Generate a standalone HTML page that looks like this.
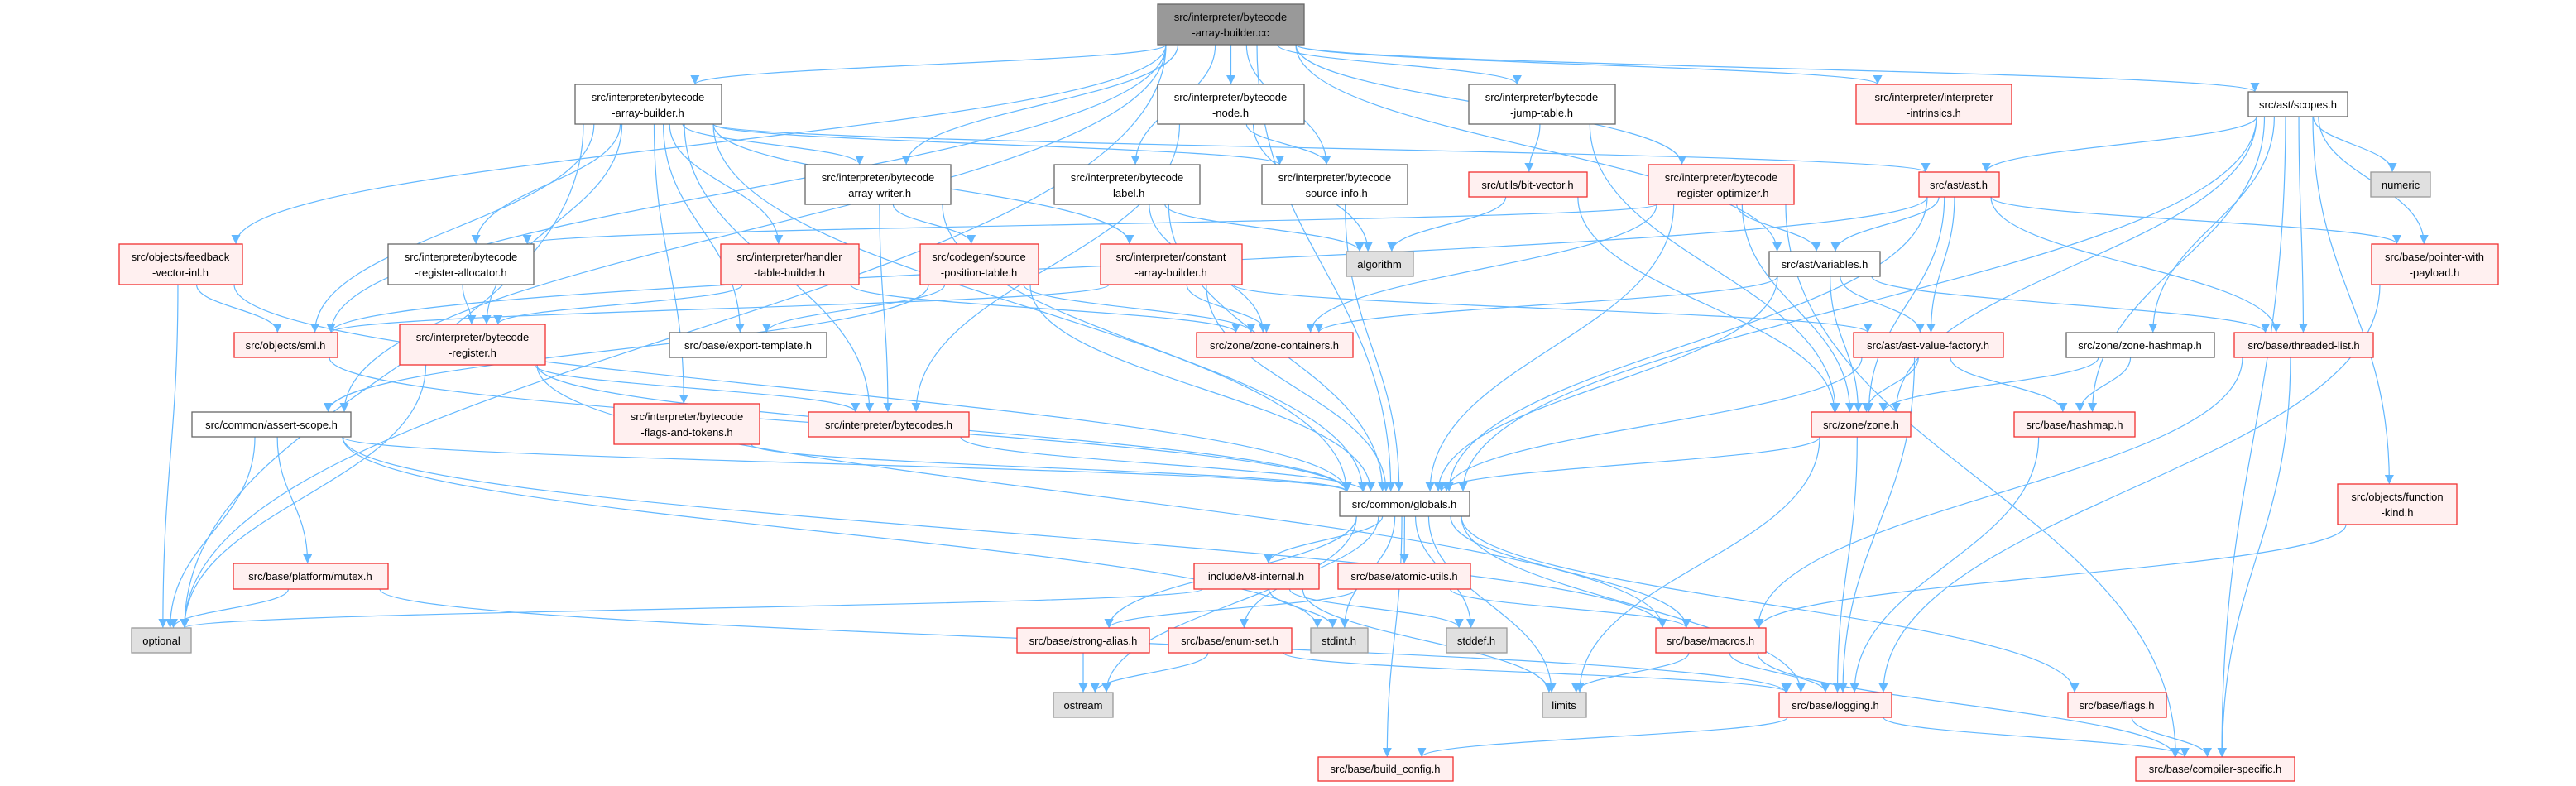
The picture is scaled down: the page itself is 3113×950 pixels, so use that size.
<!DOCTYPE html>
<html><head><meta charset="utf-8"><style>
html,body{margin:0;padding:0;background:#fff;}
svg{display:block;}
text{font-family:"Liberation Sans",sans-serif;font-size:13px;fill:#000;text-anchor:middle;}
.n rect{stroke-width:1.3;}
.w rect{fill:#fff;stroke:#666;}
.r rect{fill:#fff0f0;stroke:#f03030;}
.g rect{fill:#e0e0e0;stroke:#999;}
.t rect{fill:#999;stroke:#666;}
path.e{fill:none;stroke:#63b8ff;stroke-width:1.2;}
</style></head><body>
<svg id="s" width="3113" height="950" viewBox="0 0 3113 950" xmlns="http://www.w3.org/2000/svg">
<defs><marker id="a" viewBox="0 0 10 10" refX="10" refY="5" markerWidth="11" markerHeight="11" markerUnits="userSpaceOnUse" orient="auto"><path d="M0,0 L10,5 L0,10 z" fill="#63b8ff"/></marker></defs>
<g id="edges"></g>
<g id="nodes">
<g class="n t" id="cc"><rect x="1399" y="5" width="177" height="49"/><text x="1487" y="25">src/interpreter/bytecode</text><text x="1487" y="44">-array-builder.cc</text></g>
<g class="n w" id="abh"><rect x="695" y="102" width="177" height="48"/><text x="783" y="122">src/interpreter/bytecode</text><text x="783" y="141">-array-builder.h</text></g>
<g class="n w" id="node"><rect x="1399" y="102" width="177" height="48"/><text x="1487" y="122">src/interpreter/bytecode</text><text x="1487" y="141">-node.h</text></g>
<g class="n w" id="jump"><rect x="1775" y="102" width="177" height="48"/><text x="1863" y="122">src/interpreter/bytecode</text><text x="1863" y="141">-jump-table.h</text></g>
<g class="n r" id="intr"><rect x="2243" y="102" width="188" height="48"/><text x="2337" y="122">src/interpreter/interpreter</text><text x="2337" y="141">-intrinsics.h</text></g>
<g class="n w" id="scopes"><rect x="2717" y="111" width="120" height="30"/><text x="2777" y="131">src/ast/scopes.h</text></g>
<g class="n w" id="writer"><rect x="973" y="199" width="176" height="48"/><text x="1061" y="219">src/interpreter/bytecode</text><text x="1061" y="238">-array-writer.h</text></g>
<g class="n w" id="label"><rect x="1274" y="199" width="176" height="48"/><text x="1362" y="219">src/interpreter/bytecode</text><text x="1362" y="238">-label.h</text></g>
<g class="n w" id="srcinfo"><rect x="1525" y="199" width="176" height="48"/><text x="1613" y="219">src/interpreter/bytecode</text><text x="1613" y="238">-source-info.h</text></g>
<g class="n r" id="bitvec"><rect x="1775" y="208" width="143" height="30"/><text x="1846" y="228">src/utils/bit-vector.h</text></g>
<g class="n r" id="regopt"><rect x="1992" y="199" width="176" height="48"/><text x="2080" y="219">src/interpreter/bytecode</text><text x="2080" y="238">-register-optimizer.h</text></g>
<g class="n r" id="ast"><rect x="2319" y="208" width="97" height="30"/><text x="2367" y="228">src/ast/ast.h</text></g>
<g class="n g" id="numeric"><rect x="2865" y="208" width="72" height="30"/><text x="2901" y="228">numeric</text></g>
<g class="n r" id="fb"><rect x="144" y="295" width="149" height="49"/><text x="218" y="315">src/objects/feedback</text><text x="218" y="334">-vector-inl.h</text></g>
<g class="n w" id="ralloc"><rect x="469" y="295" width="176" height="49"/><text x="557" y="315">src/interpreter/bytecode</text><text x="557" y="334">-register-allocator.h</text></g>
<g class="n r" id="htb"><rect x="871" y="295" width="167" height="49"/><text x="954" y="315">src/interpreter/handler</text><text x="954" y="334">-table-builder.h</text></g>
<g class="n r" id="spt"><rect x="1112" y="295" width="143" height="49"/><text x="1183" y="315">src/codegen/source</text><text x="1183" y="334">-position-table.h</text></g>
<g class="n r" id="cab"><rect x="1330" y="295" width="171" height="49"/><text x="1415" y="315">src/interpreter/constant</text><text x="1415" y="334">-array-builder.h</text></g>
<g class="n g" id="algo"><rect x="1627" y="304" width="81" height="30"/><text x="1667" y="324">algorithm</text></g>
<g class="n w" id="vars"><rect x="2138" y="304" width="134" height="30"/><text x="2205" y="324">src/ast/variables.h</text></g>
<g class="n r" id="pwp"><rect x="2866" y="295" width="153" height="49"/><text x="2942" y="315">src/base/pointer-with</text><text x="2942" y="334">-payload.h</text></g>
<g class="n r" id="smi"><rect x="283" y="402" width="125" height="30"/><text x="345" y="422">src/objects/smi.h</text></g>
<g class="n r" id="reg"><rect x="483" y="392" width="176" height="49"/><text x="571" y="412">src/interpreter/bytecode</text><text x="571" y="431">-register.h</text></g>
<g class="n w" id="exp"><rect x="809" y="402" width="190" height="30"/><text x="904" y="422">src/base/export-template.h</text></g>
<g class="n r" id="zc"><rect x="1446" y="402" width="189" height="30"/><text x="1540" y="422">src/zone/zone-containers.h</text></g>
<g class="n r" id="avf"><rect x="2240" y="402" width="181" height="30"/><text x="2330" y="422">src/ast/ast-value-factory.h</text></g>
<g class="n w" id="zhm"><rect x="2497" y="402" width="179" height="30"/><text x="2586" y="422">src/zone/zone-hashmap.h</text></g>
<g class="n r" id="tl"><rect x="2700" y="402" width="168" height="30"/><text x="2784" y="422">src/base/threaded-list.h</text></g>
<g class="n r" id="fat"><rect x="742" y="488" width="176" height="49"/><text x="830" y="508">src/interpreter/bytecode</text><text x="830" y="527">-flags-and-tokens.h</text></g>
<g class="n w" id="as"><rect x="232" y="498" width="192" height="30"/><text x="328" y="518">src/common/assert-scope.h</text></g>
<g class="n r" id="bcs"><rect x="977" y="498" width="194" height="30"/><text x="1074" y="518">src/interpreter/bytecodes.h</text></g>
<g class="n r" id="zone"><rect x="2189" y="498" width="120" height="30"/><text x="2249" y="518">src/zone/zone.h</text></g>
<g class="n r" id="hm"><rect x="2434" y="498" width="146" height="30"/><text x="2507" y="518">src/base/hashmap.h</text></g>
<g class="n w" id="glob"><rect x="1619" y="594" width="157" height="30"/><text x="1697" y="614">src/common/globals.h</text></g>
<g class="n r" id="fk"><rect x="2825" y="585" width="144" height="49"/><text x="2897" y="605">src/objects/function</text><text x="2897" y="624">-kind.h</text></g>
<g class="n r" id="mutex"><rect x="282" y="681" width="187" height="31"/><text x="375" y="701">src/base/platform/mutex.h</text></g>
<g class="n r" id="v8i"><rect x="1443" y="681" width="151" height="31"/><text x="1518" y="701">include/v8-internal.h</text></g>
<g class="n r" id="atom"><rect x="1617" y="681" width="160" height="31"/><text x="1697" y="701">src/base/atomic-utils.h</text></g>
<g class="n g" id="opt"><rect x="159" y="759" width="72" height="30"/><text x="195" y="779">optional</text></g>
<g class="n r" id="sa"><rect x="1229" y="759" width="160" height="30"/><text x="1309" y="779">src/base/strong-alias.h</text></g>
<g class="n r" id="es"><rect x="1412" y="759" width="149" height="30"/><text x="1486" y="779">src/base/enum-set.h</text></g>
<g class="n g" id="stdint"><rect x="1584" y="759" width="69" height="30"/><text x="1618" y="779">stdint.h</text></g>
<g class="n g" id="stddef"><rect x="1748" y="759" width="73" height="30"/><text x="1784" y="779">stddef.h</text></g>
<g class="n r" id="mac"><rect x="2001" y="759" width="133" height="30"/><text x="2067" y="779">src/base/macros.h</text></g>
<g class="n g" id="ostr"><rect x="1273" y="837" width="72" height="30"/><text x="1309" y="857">ostream</text></g>
<g class="n g" id="lim"><rect x="1864" y="837" width="53" height="30"/><text x="1890" y="857">limits</text></g>
<g class="n r" id="log"><rect x="2150" y="837" width="136" height="30"/><text x="2218" y="857">src/base/logging.h</text></g>
<g class="n r" id="flags"><rect x="2499" y="837" width="119" height="30"/><text x="2558" y="857">src/base/flags.h</text></g>
<g class="n r" id="bc"><rect x="1593" y="915" width="163" height="29"/><text x="1674" y="934">src/base/build_config.h</text></g>
<g class="n r" id="cs"><rect x="2581" y="915" width="192" height="29"/><text x="2677" y="934">src/base/compiler-specific.h</text></g>
</g>
</svg>
<script>
(function(){
var E="cc>abh cc>node cc>writer cc>label cc>srcinfo cc>jump cc>regopt cc>intr cc>scopes cc>vars cc>glob cc>fb cc>smi cc>as cc>opt "+
"abh>writer abh>ralloc abh>reg abh>htb abh>exp abh>fat abh>bcs abh>cab abh>srcinfo abh>ast abh>glob abh>opt abh>smi "+
"node>bcs node>algo node>srcinfo writer>spt writer>bcs writer>glob label>algo label>zc label>glob srcinfo>glob "+
"jump>bitvec jump>zone bitvec>algo bitvec>zone regopt>vars regopt>zc regopt>glob regopt>zone regopt>cs regopt>ralloc "+
"scopes>ast scopes>numeric scopes>pwp scopes>tl scopes>zhm scopes>fk scopes>glob scopes>zone scopes>hm scopes>cs "+
"ast>vars ast>avf ast>tl ast>pwp ast>glob ast>zone ast>smi vars>zc vars>avf vars>zone vars>glob vars>tl "+
"avf>zone avf>hm avf>glob avf>log zhm>zone zhm>hm tl>mac tl>cs pwp>log fk>mac hm>log "+
"fb>smi fb>opt fb>glob smi>glob ralloc>reg reg>glob reg>bcs reg>opt reg>mac htb>zc htb>reg "+
"spt>exp spt>glob spt>zc spt>as cab>zc cab>glob cab>avf cab>smi fat>glob bcs>glob "+
"as>opt as>mutex as>glob as>mac as>stdint mutex>opt mutex>log zone>glob zone>log zone>lim "+
"glob>v8i glob>atom glob>stddef glob>lim glob>mac glob>log glob>flags glob>bc glob>ostr glob>sa glob>es glob>stdint "+
"v8i>opt v8i>stdint v8i>stddef v8i>lim atom>mac atom>sa sa>ostr es>ostr es>log mac>lim mac>log mac>cs log>bc log>cs flags>cs";
var g=document.getElementById('edges'),ns="http://www.w3.org/2000/svg";
function box(id){var r=document.querySelector('#'+id+' rect');return{x:+r.getAttribute('x'),y:+r.getAttribute('y'),w:+r.getAttribute('width'),h:+r.getAttribute('height')};}
E.split(' ').forEach(function(p){var t=p.split('>');var a=box(t[0]),b=box(t[1]);
var sx=a.x+a.w/2,sy,tx=b.x+b.w/2,ty,d;
if(b.y>=a.y+a.h-2){sy=a.y+a.h;ty=b.y;
 var off=(sx-tx);sx=Math.max(a.x+10,Math.min(a.x+a.w-10,sx-off*0.15));tx=Math.max(b.x+8,Math.min(b.x+b.w-8,tx+off*0.08));
 var dy=(ty-sy)*0.45;d="M"+sx+","+sy+" C"+sx+","+(sy+dy)+" "+tx+","+(ty-dy)+" "+tx+","+ty;}
else{sy=a.y+a.h/2;ty=b.y+b.h/2;if(tx>sx){sx=a.x+a.w;tx=b.x;}else{sx=a.x;tx=b.x+b.w;}
 var dx=(tx-sx)*0.4;d="M"+sx+","+sy+" C"+(sx+dx)+","+sy+" "+(tx-dx)+","+ty+" "+tx+","+ty;}
var e=document.createElementNS(ns,'path');e.setAttribute('class','e');e.setAttribute('d',d);e.setAttribute('marker-end','url(#a)');g.appendChild(e);});
})();
</script>
</body></html>
